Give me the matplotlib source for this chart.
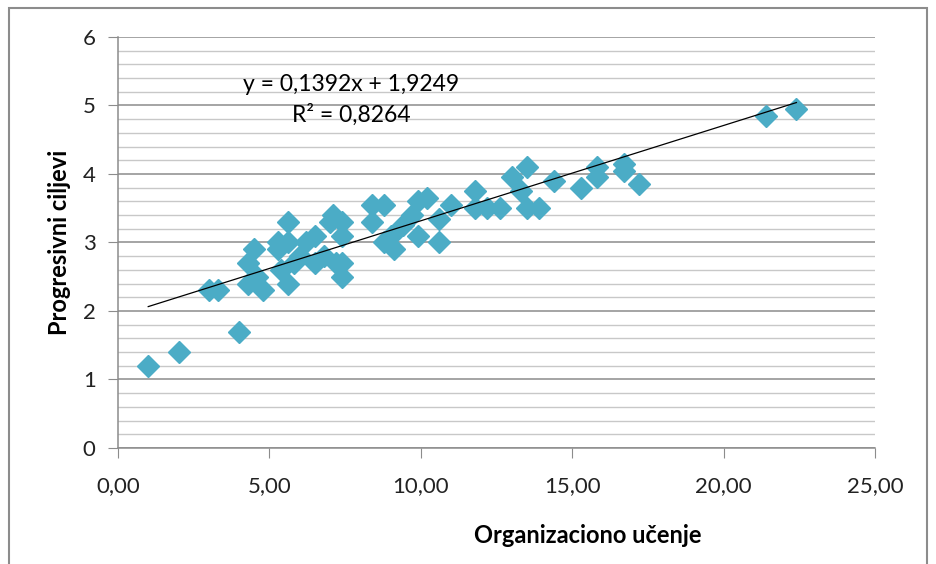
import numpy as np
import matplotlib.pyplot as plt
from matplotlib.ticker import MultipleLocator, FuncFormatter
from matplotlib.patches import Rectangle

# values
org_ucenje = [1.0, 2.0, 3.0, 3.3, 4.0, 4.3, 4.3, 4.5, 4.8, 4.6,
              5.3, 5.3, 5.6, 5.6, 5.6, 5.4, 5.8, 6.0, 6.2, 6.5,
              6.5, 6.8, 7.1, 7.0, 7.2, 7.4, 7.4, 7.4, 7.4, 8.4,
              8.8, 8.4, 8.8, 9.1, 9.0, 9.4, 9.7, 9.9, 10.2, 9.9,
              10.6, 10.6, 11.0, 11.8, 11.8, 12.2, 12.6, 13.0, 13.5, 13.3,
              13.5, 13.9, 14.4, 15.3, 15.8, 15.8, 16.7, 16.7, 17.2, 21.4,
              22.4]
prog_ciljevi = [1.2, 1.4, 2.3, 2.3, 1.7, 2.7, 2.4, 2.9, 2.3, 2.5,
                2.9, 3.0, 3.3, 3.0, 2.4, 2.6, 2.7, 2.8, 3.0, 3.1,
                2.7, 2.8, 3.4, 3.3, 2.7, 3.3, 3.1, 2.7, 2.5, 3.55,
                3.55, 3.3, 3.0, 2.9, 3.1, 3.25, 3.4, 3.6, 3.65, 3.1,
                3.0, 3.35, 3.55, 3.75, 3.5, 3.5, 3.5, 3.95, 4.1, 3.75,
                3.5, 3.5, 3.9, 3.8, 4.1, 3.95, 4.15, 4.05, 3.85, 4.85,
                4.95]
slope = 0.1392
intercept = 1.9249
r2 = 0.8264

plt.rcParams['font.family'] = ['Lato', 'DejaVu Sans']

fig = plt.figure(figsize=(9.36, 5.64), dpi=100)
ax = fig.add_axes([0.126, 0.2057, 0.809, 0.7287])

# outer chart frame
fig.patches.append(Rectangle((9 / 936, -0.05), 918 / 936, 1 - 8 / 564 + 0.05,
                             transform=fig.transFigure, fill=False,
                             edgecolor='#8c8c8c', linewidth=1.5))

ax.plot(org_ucenje, prog_ciljevi, linestyle='none', marker='D',
        markersize=11.5, color='#4BACC6', zorder=3)

xs = np.array([min(org_ucenje), max(org_ucenje)])
ax.plot(xs, slope * xs + intercept, color='black', linewidth=0.9, zorder=4)

eq = f"y = {slope:.4f}x + {intercept:.4f}".replace('.', ',')
ax.text(7.7, 5.3, eq, fontsize=16.5, ha='center', va='center', zorder=5)
ax.text(7.7, 4.86, f"R² = {r2:.4f}".replace('.', ','), fontsize=16.5,
        ha='center', va='center', zorder=5)

ax.set_xlim(0, 25)
ax.set_ylim(0, 6)
ax.xaxis.set_major_locator(MultipleLocator(5))
ax.yaxis.set_major_locator(MultipleLocator(1))
ax.yaxis.set_minor_locator(MultipleLocator(0.2))
ax.xaxis.set_major_formatter(FuncFormatter(lambda v, p: f"{v:.2f}".replace('.', ',')))
ax.yaxis.set_major_formatter(FuncFormatter(lambda v, p: f"{v:.0f}"))

ax.grid(axis='y', which='major', color='#8c8c8c', linewidth=1.1)
ax.grid(axis='y', which='minor', color='#c8c8c8', linewidth=1.0)
ax.set_axisbelow(True)

for s in ['top', 'right']:
    ax.spines[s].set_visible(False)
for s in ['left', 'bottom']:
    ax.spines[s].set_color('#8c8c8c')
    ax.spines[s].set_linewidth(1.1)

ax.tick_params(axis='both', which='major', direction='out', length=7,
               color='#8c8c8c', labelsize=16, labelcolor='#222222')
ax.tick_params(axis='y', which='minor', length=0)
ax.tick_params(axis='y', pad=9)
ax.tick_params(axis='x', pad=13)

ax.set_xlabel('Organizaciono učenje', fontsize=17, fontweight='bold')
ax.set_ylabel('Progresivni ciljevi', fontsize=17, fontweight='bold')
ax.xaxis.set_label_coords(0.621, -0.185)
ax.yaxis.set_label_coords(-0.062, 0.5)

fig.savefig('out.png', dpi=100)
